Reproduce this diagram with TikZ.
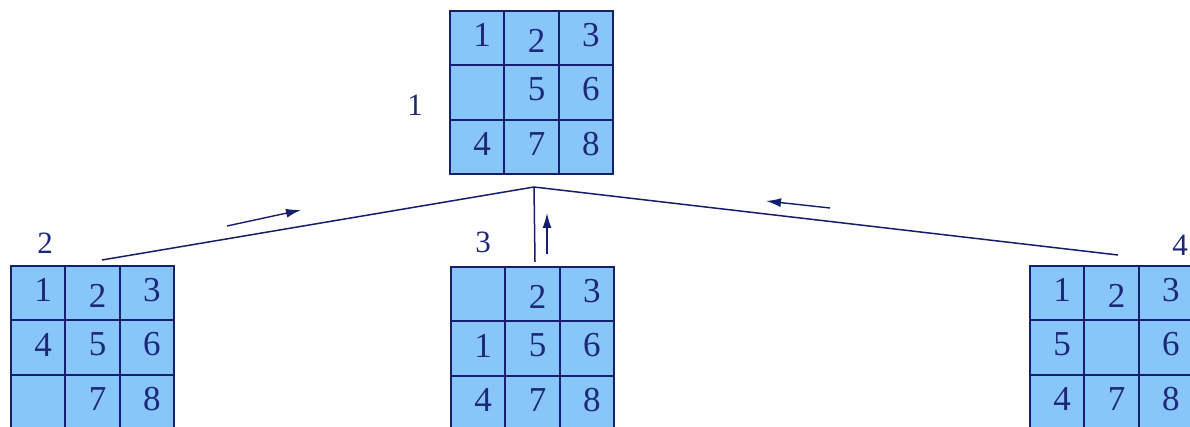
\documentclass[tikz,border=0pt]{standalone}
\usepackage{fontspec}
\setmainfont{Liberation Serif}
\usetikzlibrary{arrows.meta}
\definecolor{tilefill}{RGB}{136,198,250}
\definecolor{gridcol}{RGB}{22,30,110}
\definecolor{digitcol}{RGB}{30,40,120}
\tikzset{
  board/.style={draw=gridcol, fill=tilefill, line width=1.8pt, minimum size=163pt, inner sep=0pt, outer sep=0pt},
  gridl/.style={draw=gridcol, line width=1.8pt},
  digitnode/.style={text=digitcol, font=\fontsize{35}{35}\selectfont, inner sep=0pt},
  statelabel/.style={text=digitcol, font=\fontsize{31}{31}\selectfont, inner sep=0pt},
  edge/.style={draw=gridcol, line width=1.5pt},
  movearrow/.style={draw=gridcol, line width=1.4pt, -{Latex[length=15pt,width=9pt]}}
}
\newcommand\drawboard[4]{%
  \node[board] (#1) at (#2+81.5,#3+81.5) {};
  \draw[gridl] (#2+54.33,#3) -- ++(0,163);
  \draw[gridl] (#2+108.67,#3) -- ++(0,163);
  \draw[gridl] (#2,#3+54.33) -- ++(163,0);
  \draw[gridl] (#2,#3+108.67) -- ++(163,0);
  \foreach \d [count=\i from 0] in {#4} {
    \pgfmathtruncatemacro\rr{int(\i/3)}
    \pgfmathtruncatemacro\cc{mod(\i,3)}
    \pgfmathsetmacro\dy{ifthenelse(\d==2,3,-3)}
    \node[digitnode] (#1-\i) at (#2+27.2+54.33*\cc+5, #3+27.2+54.33*\rr+\dy) {\ifnum\d=0 \else\d\fi};
  }
}
\begin{document}
\begin{tikzpicture}[x={(1pt,0pt)}, y={(0pt,-1pt)}]
  \clip (0,0) rectangle (1190,427);
  \fill[white] (0,0) rectangle (1190,427);
  % boards (0 = blank cell)
  \drawboard{b1}{450}{11}{1,2,3,0,5,6,4,7,8}
  \drawboard{b2}{11}{266}{1,2,3,4,5,6,0,7,8}
  \drawboard{b3}{451}{267}{0,2,3,1,5,6,4,7,8}
  \drawboard{b4}{1030}{266}{1,2,3,5,0,6,4,7,8}
  % state labels
  \node[statelabel] (l1) at (415,105) {1};
  \node[statelabel] (l2) at (45,243) {2};
  \node[statelabel] (l3) at (483,242) {3};
  \node[statelabel] (l4) at (1180,245) {4};
  % tree edges
  \coordinate (apex) at (534,187);
  \coordinate (e2) at (102,260);
  \coordinate (e3) at (535,262);
  \coordinate (e4) at (1118,255);
  \draw[edge] (e2) -- (apex) -- (e4);
  \draw[edge] (apex) -- (e3);
  % move arrows
  \coordinate (a2s) at (227,226);
  \coordinate (a2e) at (301,210);
  \coordinate (a3s) at (547,254);
  \coordinate (a3e) at (547,213);
  \coordinate (a4s) at (830,208);
  \coordinate (a4e) at (766,201);
  \draw[movearrow] (a2s) -- (a2e);
  \draw[movearrow] (a3s) -- (a3e);
  \draw[movearrow] (a4s) -- (a4e);
\end{tikzpicture}
\end{document}
